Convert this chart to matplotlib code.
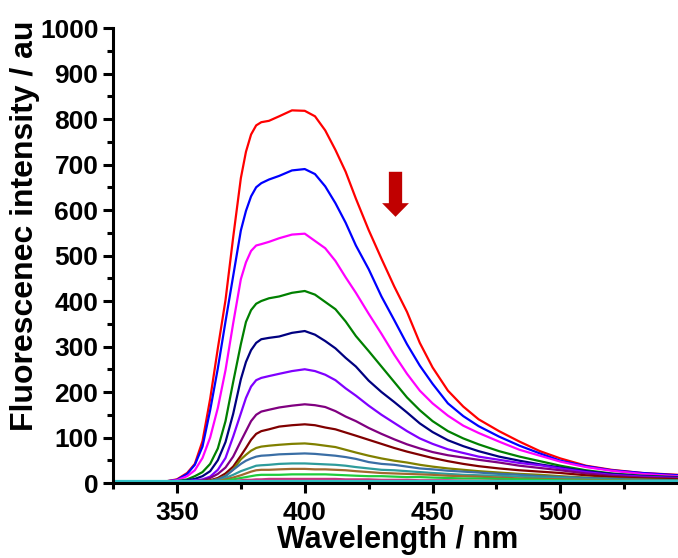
import matplotlib
matplotlib.use("Agg")
import matplotlib.pyplot as plt
from matplotlib.ticker import MultipleLocator
from matplotlib.patches import FancyArrow

plt.rcParams['font.family'] = ['Liberation Sans', 'DejaVu Sans']
plt.rcParams['font.weight'] = 'bold'

# Wavelength grid (nm)
wavelength = [325, 345, 350, 354, 357, 360, 363, 366, 369, 372,
              375, 377, 379, 381, 383, 386, 390, 395, 400, 404,
              408, 412, 416, 420, 425, 430, 435, 440, 445, 450,
              456, 462, 468, 476, 484, 492, 500, 510, 520, 532,
              546]

# Emission spectra (highest to lowest)
red = [2, 3, 8, 22, 42, 92, 185, 296, 402, 540,
       670, 728, 766, 786, 793, 796, 806, 819, 818, 806,
       775, 732, 684, 625, 556, 493, 432, 376, 308, 254,
       203, 168, 140, 114, 91, 70, 54, 38, 29, 22,
       18]
blue = [2, 3, 7, 20, 40, 80, 160, 252, 355, 455,
        555, 598, 630, 650, 659, 667, 675, 687, 690, 679,
        652, 615, 572, 522, 470, 410, 358, 305, 258, 218,
        175, 147, 125, 102, 82, 65, 49, 37, 28, 22,
        17]
magenta = [2, 3, 6, 15, 28, 55, 100, 165, 248, 351,
           448, 485, 510, 522, 525, 530, 538, 546, 548, 532,
           516, 488, 452, 418, 372, 328, 282, 240, 203, 175,
           148, 126, 110, 91, 73, 60, 47, 35, 27, 20,
           15]
green = [2, 2, 4, 8, 15, 24, 42, 76, 136, 222,
         305, 354, 380, 394, 400, 406, 410, 418, 422, 414,
         398, 382, 355, 323, 290, 256, 222, 188, 160, 136,
         114, 98, 85, 70, 58, 48, 38, 28, 21, 16,
         13]
navy = [2, 2, 3, 6, 9, 15, 26, 50, 90, 152,
        228, 266, 292, 308, 316, 319, 322, 330, 334, 326,
        312, 296, 275, 256, 225, 200, 178, 155, 131, 112,
        94, 81, 70, 58, 49, 41, 34, 26, 20, 15,
        12]
violet = [2, 2, 2, 4, 6, 8, 14, 29, 55, 102,
          153, 187, 212, 226, 231, 235, 240, 246, 250, 246,
          238, 226, 208, 192, 170, 150, 132, 114, 98, 86,
          74, 66, 58, 51, 44, 39, 32, 24, 18, 14,
          11]
purple = [2, 2, 2, 3, 4, 6, 11, 20, 34, 58,
          92, 114, 136, 150, 157, 161, 166, 170, 173, 171,
          167, 158, 146, 136, 121, 108, 96, 85, 76, 68,
          61, 56, 51, 45, 38, 33, 28, 21, 16, 12,
          10]
wine = [2, 2, 2, 2, 3, 4, 6, 11, 21, 36,
        60, 77, 95, 108, 114, 118, 124, 127, 129, 127,
        122, 118, 111, 104, 95, 86, 77, 69, 62, 55,
        48, 42, 37, 32, 28, 25, 22, 17, 13, 10,
        8]
olive = [2, 2, 2, 2, 2, 3, 5, 9, 16, 30,
         52, 62, 71, 77, 80, 82, 84, 86, 87, 85,
         82, 79, 73, 67, 60, 54, 49, 45, 40, 36,
         32, 29, 26, 23, 20, 18, 15, 12, 10, 8,
         6]
steel = [2, 2, 2, 2, 2, 3, 4, 8, 15, 29,
         42, 49, 54, 58, 60, 61, 63, 64, 65, 64,
         62, 60, 57, 53, 46, 42, 40, 36, 32, 30,
         27, 25, 23, 20, 18, 15, 13, 11, 9, 7,
         5]
teal = [2, 2, 2, 2, 2, 2, 3, 5, 11, 18,
        26, 30, 34, 38, 39, 40, 42, 43, 43, 42,
        41, 40, 38, 35, 32, 29, 28, 26, 24, 22,
        20, 18, 17, 16, 14, 12, 11, 9, 7, 6,
        5]
brown = [2, 2, 2, 2, 2, 2, 2, 4, 8, 12,
         17, 21, 25, 28, 29, 29, 30, 31, 31, 30,
         30, 29, 28, 26, 24, 22, 21, 20, 19, 18,
         16, 15, 14, 12, 10, 9, 8, 7, 6, 5,
         4]
lime = [2, 2, 2, 2, 2, 2, 2, 3, 5, 8,
        11, 13, 15, 17, 18, 18, 18, 19, 19, 19,
        19, 18, 17, 16, 15, 15, 14, 13, 13, 12,
        11, 10, 10, 9, 8, 7, 6, 5, 5, 4,
        3]
pink = [2, 2, 2, 2, 2, 2, 2, 2, 3, 4,
        6, 7, 7, 8, 8, 9, 9, 9, 9, 9,
        9, 9, 8, 8, 8, 7, 7, 7, 6, 6,
        6, 5, 5, 5, 4, 4, 4, 3, 3, 3,
        3]
cyan = [4, 4, 4, 4, 4, 4, 4, 4, 4, 4,
        4, 4, 4, 4, 4, 4, 4, 4, 4, 4,
        4, 4, 4, 4, 4, 4, 4, 4, 4, 4,
        4, 4, 4, 4, 4, 4, 4, 4, 4, 4,
        4]

spectra = [red, blue, magenta, green, navy, violet, purple, wine,
           olive, steel, teal, brown, lime, pink, cyan]
colors = ['#FF0000', '#0000FF', '#FF00FF', '#008000', '#000080', '#8000FF', '#800080',
          '#800000', '#808000', '#3A6EA5', '#2E9C9C', '#A0692E', '#1ECC3C', '#C8327D', '#33C3C8']

fig = plt.figure(figsize=(6.78, 5.58), dpi=100)
ax = fig.add_axes([0.1667, 0.1344, 0.8333, 0.8154])

for y, c in zip(spectra, colors):
    ax.plot(wavelength, y, color=c, lw=1.6, solid_joinstyle='round')

# arrow showing the decrease
ax.add_patch(FancyArrow(435.5, 684, 0, -99, width=5.2, head_width=10.5, head_length=30,
                        length_includes_head=True, color='#C00000', lw=0))

ax.set_xlim(325, 546)
ax.set_ylim(0, 1000)
ax.xaxis.set_major_locator(MultipleLocator(50))
ax.xaxis.set_minor_locator(MultipleLocator(25))
ax.yaxis.set_major_locator(MultipleLocator(100))
ax.yaxis.set_minor_locator(MultipleLocator(50))

ax.spines['top'].set_visible(False)
ax.spines['right'].set_visible(False)
for s in ['left', 'bottom']:
    ax.spines[s].set_linewidth(2.2)
ax.tick_params(which='major', direction='out', length=7, width=2.2, labelsize=19)
ax.tick_params(axis='x', which='major', pad=6)
ax.tick_params(which='minor', direction='out', length=4, width=2.2)
for lab in ax.get_xticklabels() + ax.get_yticklabels():
    lab.set_fontweight('bold')

ax.set_xlabel('Wavelength / nm', fontsize=22, fontweight='bold', va='center')
ax.set_ylabel('Fluorescenec intensity / au', fontsize=23, fontweight='bold', va='center')
ax.xaxis.set_label_coords(0.504, -0.125)
ax.yaxis.set_label_coords(-0.156, 0.565)

fig.savefig('out.png', dpi=100)
